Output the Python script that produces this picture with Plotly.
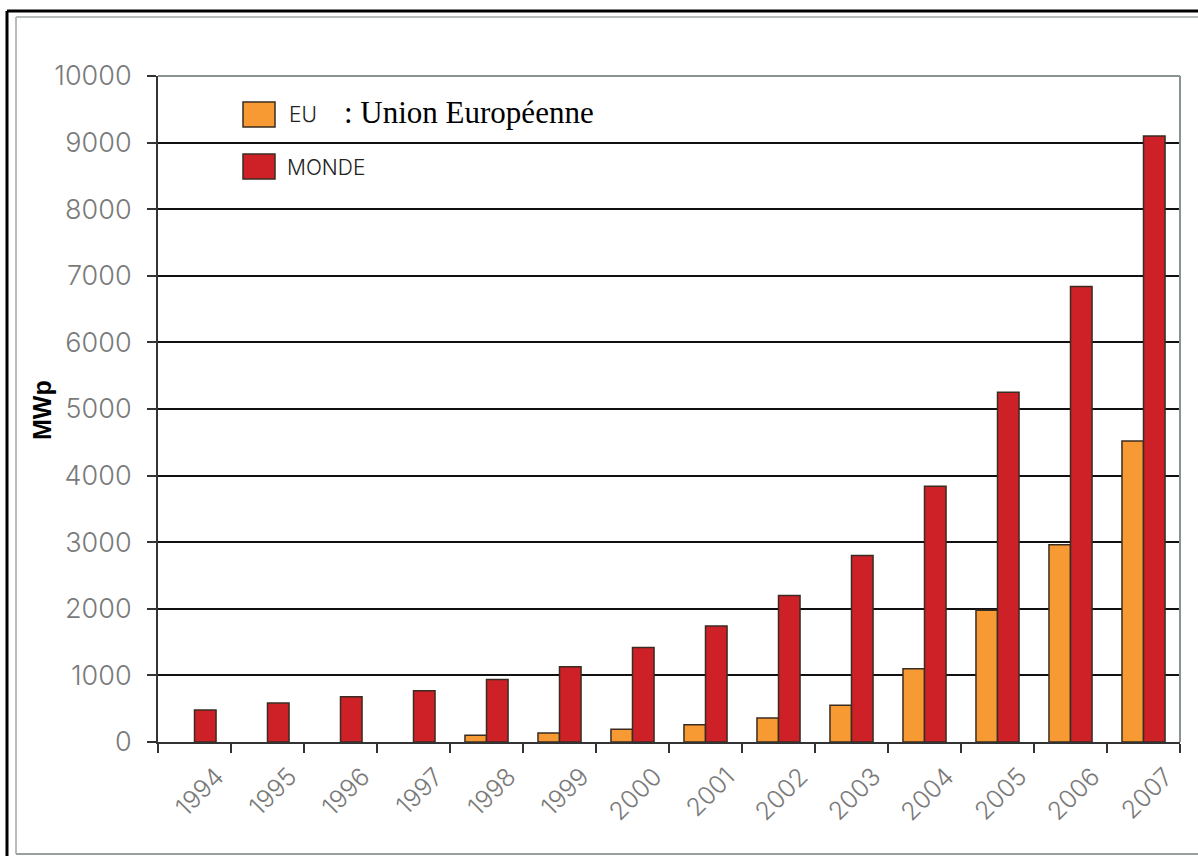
import plotly.graph_objects as go

years = ["1994", "1995", "1996", "1997", "1998", "1999", "2000",
         "2001", "2002", "2003", "2004", "2005", "2006", "2007"]
eu = [None, None, None, None, 100, 135, 190, 260, 360, 550, 1100, 1980, 2960, 4520]
monde = [480, 585, 680, 770, 940, 1130, 1420, 1740, 2200, 2800, 3840, 5250, 6840, 9100]
y_ticks = [0, 1000, 2000, 3000, 4000, 5000, 6000, 7000, 8000, 9000, 10000]
y_tick_text = ["0", "1000", "2000", "3000", "4000", "5000", "6000", "7000", "8000", "9000", "10000"]

W, H = 1198, 856
L, R, T, B = 158, 18, 76, 114
PW, PH = W - L - R, H - T - B


def px(x):
    return (x - L) / PW


def py(y):
    return (H - B - y) / PH


ORANGE = "#F79A33"
RED = "#CE2027"
EDGE = "#3a2c22"
TICKFONT = "Inter, DejaVu Sans, sans-serif"

fig = go.Figure()
fig.add_trace(go.Bar(x=years, y=eu, name="EU", marker=dict(color=ORANGE, line=dict(color=EDGE, width=1.5))))
fig.add_trace(go.Bar(x=years, y=monde, name="MONDE", marker=dict(color=RED, line=dict(color=EDGE, width=1.5))))

shapes = []
# outer frame (black) and inner frame (gray)
shapes.append(dict(type="line", xref="paper", yref="paper", x0=px(7), x1=px(1198), y0=py(11), y1=py(11),
                   line=dict(color="black", width=3)))
shapes.append(dict(type="line", xref="paper", yref="paper", x0=px(7), x1=px(7), y0=py(11), y1=py(856),
                   line=dict(color="black", width=3)))
shapes.append(dict(type="line", xref="paper", yref="paper", x0=px(16), x1=px(1198), y0=py(17), y1=py(17),
                   line=dict(color="#b8bcbc", width=2)))
shapes.append(dict(type="line", xref="paper", yref="paper", x0=px(16), x1=px(16), y0=py(17), y1=py(854),
                   line=dict(color="#b8bcbc", width=2)))
shapes.append(dict(type="line", xref="paper", yref="paper", x0=px(16), x1=px(1198), y0=py(854), y1=py(854),
                   line=dict(color="#9aa0a0", width=2)))
# plot area top/right gray border
shapes.append(dict(type="line", xref="paper", yref="paper", x0=0, x1=1, y0=1, y1=1,
                   line=dict(color="#8a9292", width=2)))
shapes.append(dict(type="line", xref="paper", yref="paper", x0=1, x1=1, y0=0, y1=1,
                   line=dict(color="#8a9292", width=2)))
# legend swatches
shapes.append(dict(type="rect", xref="paper", yref="paper", x0=px(243), x1=px(275), y0=py(127), y1=py(102),
                   fillcolor=ORANGE, line=dict(color=EDGE, width=1.5)))
shapes.append(dict(type="rect", xref="paper", yref="paper", x0=px(243), x1=px(275), y0=py(179), y1=py(154),
                   fillcolor=RED, line=dict(color=EDGE, width=1.5)))

annotations = [
    dict(x=px(287), y=py(115), xref="paper", yref="paper", text="EU", showarrow=False, xanchor="left",
         yanchor="middle", font=dict(family=TICKFONT, size=21, color="#222", weight=300)),
    dict(x=px(342), y=py(112), xref="paper", yref="paper", text=": Union Européenne", showarrow=False,
         xanchor="left", yanchor="middle", font=dict(family="Liberation Serif", size=31, color="black")),
    dict(x=px(285), y=py(167), xref="paper", yref="paper", text="MONDE", showarrow=False, xanchor="left",
         yanchor="middle", font=dict(family=TICKFONT, size=21, color="#222", weight=300)),
    dict(x=px(42), y=py(410), xref="paper", yref="paper", text="<b>MWp</b>", showarrow=False, textangle=-90,
         xanchor="center", yanchor="middle", font=dict(family="Liberation Sans", size=25, color="black")),
]

fig.update_layout(
    width=W, height=H,
    margin=dict(l=L, r=R, t=T, b=B, pad=0),
    paper_bgcolor="white", plot_bgcolor="white",
    barmode="group", bargap=0.41, bargroupgap=0,
    showlegend=False,
    shapes=shapes, annotations=annotations,
    xaxis=dict(type="category", showgrid=False, showline=True, linecolor="#333", linewidth=2,
               ticks="outside", tickson="boundaries", ticklen=9, tickwidth=2, tickcolor="#333",
               tickangle=-45, ticklabelshift=22, ticklabelstandoff=8,
               tickfont=dict(family=TICKFONT, size=25, color="#7a7a7a", weight=300)),
    yaxis=dict(range=[0, 10000], tickvals=y_ticks, ticktext=y_tick_text, showgrid=True, gridcolor="#111",
               gridwidth=1.5, showline=True, linecolor="#333", linewidth=2, ticks="outside", ticklen=9,
               tickwidth=2, tickcolor="#333", zeroline=False, ticklabelstandoff=10,
               tickfont=dict(family=TICKFONT, size=27, color="#7a7a7a", weight=300)),
)

fig.write_html("out.html", config={"displayModeBar": False},
               post_script="document.body.style.margin='0';document.body.style.overflow='hidden';")
